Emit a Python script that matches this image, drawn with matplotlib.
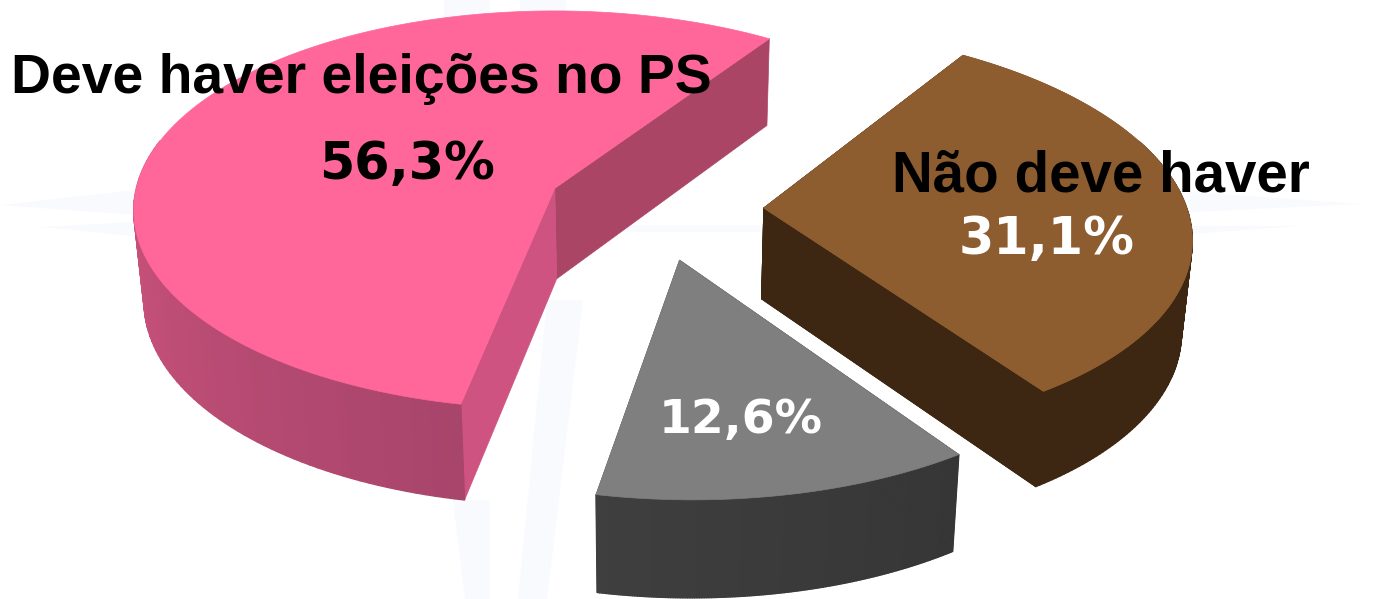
import numpy as np
import matplotlib
matplotlib.use("Agg")
import matplotlib.pyplot as plt
from matplotlib.colors import to_rgb
from matplotlib.collections import PolyCollection

# data
labels = ["Deve haver eleições no PS", "Não deve haver", ""]
shares = [56.3, 31.1, 12.6]
pct_labels = ["56,3%", "31,1%", "12,6%"]
pct_colors = ["black", "white", "white"]

top_colors = ["#FF6699", "#8D5C2F", "#7F7F7F"]
wall_start = ["#D2557F", "#3D2712", "#4A4A4A"]
wall_end = ["#A6446A", "#3D2712", "#333333"]
cut_colors = [("#AB4566", "#CE5380"), ("#3D2712", "#3D2712"), ("#4A4A4A", "#333333")]

start_angle = 56.0
explode = 0.257
depth = 91.0
cx, cy = 655.0, 208.0
ax_x, ax_y = 423.0, 201.0
persp = 0.11
shear = 10.0
squeeze = 0.00022


def project(u, v, z=0.0):
    # disc coordinates to pixels, z is how far down the wall
    u = np.asarray(u, dtype=float)
    v = np.asarray(v, dtype=float)
    s = 1.0 / (1.0 + persp * v)
    x = cx + ax_x * u * s - shear * v
    y = cy - ax_y * v * s + z * np.sqrt(s)
    x = 650 + (x - 650) * (1 - squeeze * z)
    return np.column_stack([x, y])


def mix(c0, c1, t):
    a, b = np.array(to_rgb(c0)), np.array(to_rgb(c1))
    return a + (b - a) * t


def draw_slice(ax, a0, a1, top, w0, w1, cuts, side_range):
    mid = np.radians((a0 + a1) / 2)
    ox, oy = explode * np.cos(mid), explode * np.sin(mid)
    th = np.radians(np.linspace(a0, a1, 160))
    us, vs = ox + np.cos(th), oy + np.sin(th)

    # straight cut walls
    for ang, col in zip((a0, a1), cuts):
        t = np.radians(ang)
        end_u, end_v = ox + np.cos(t), oy + np.sin(t)
        p = np.vstack([project([ox, end_u], [oy, end_v]),
                       project([end_u, ox], [end_v, oy], depth)])
        ax.fill(p[:, 0], p[:, 1], color=col, lw=0.5, zorder=2)

    # curved outer wall as thin strips
    upper, lower = project(us, vs), project(us, vs, depth)
    polys, cols = [], []
    for i in range(len(th) - 1):
        ang = np.degrees(th[i]) % 360
        if side_range[0] <= ang <= side_range[1]:
            t = (ang - side_range[0]) / (side_range[1] - side_range[0])
            polys.append([upper[i], upper[i + 1], lower[i + 1], lower[i]])
            cols.append(mix(w0, w1, t))
    ax.add_collection(PolyCollection(polys, facecolors=cols, edgecolors=cols, lw=1.0, zorder=3))

    outline = np.vstack([project([ox], [oy]), upper])
    ax.fill(outline[:, 0], outline[:, 1], color=top, lw=0.5, zorder=4)


fig = plt.figure(figsize=(13.93, 5.99), dpi=100)
ax = fig.add_axes([0, 0, 1, 1])
ax.set_xlim(0, 1393)
ax.set_ylim(599, 0)
ax.axis("off")

# faint compass watermark behind the pie
faint = "#F8FAFE"
ax.fill([1, 135, 135], [205, 190, 215], color=faint, lw=0, zorder=1)
ax.fill([40, 135, 135], [227, 222, 236], color=faint, lw=0, zorder=1)
ax.fill([1190, 1360, 1190], [192, 204, 212], color=faint, lw=0, zorder=1)
ax.fill([1190, 1300, 1190], [226, 226, 234], color=faint, lw=0, zorder=1)
ax.fill([444, 490, 490, 444], [0, 0, 25, 25], color=faint, lw=0, zorder=1)
ax.fill([520, 566, 566, 520], [0, 0, 25, 25], color=faint, lw=0, zorder=1)
ax.fill([453, 490, 490, 465], [500, 500, 599, 599], color=faint, lw=0, zorder=1)
ax.fill([547, 583, 547, 518], [300, 300, 599, 599], color=faint, lw=0, zorder=1)
ax.fill([587, 760, 760, 587], [225, 225, 232, 232], color=faint, lw=0, zorder=1)

sweeps = np.array(shares) / np.sum(shares) * 360
# pink runs counter clockwise from the start, brown clockwise, gray closes the circle
a_pink = (start_angle, start_angle + sweeps[0])
a_gray = (a_pink[1], a_pink[1] + sweeps[2])
a_brown = (a_gray[1], a_gray[1] + sweeps[1])

draw_slice(ax, *a_gray, top_colors[2], wall_start[2], wall_end[2], cut_colors[2], (200, 320))
draw_slice(ax, *a_brown, top_colors[1], wall_start[1], wall_end[1], cut_colors[1], (270, 360))
draw_slice(ax, *a_brown, top_colors[1], wall_start[1], wall_end[1], cut_colors[1], (0, 20))
draw_slice(ax, *a_pink, top_colors[0], wall_start[0], wall_end[0], cut_colors[0], (165, 262))

ax.text(361, 79, labels[0], family="Liberation Sans", weight="bold", fontsize=39.8,
        ha="center", va="center", color="black", zorder=6)
ax.text(1101, 176, labels[1], family="Liberation Sans", weight="bold", fontsize=40.7,
        ha="center", va="center", color="black", zorder=6)
ax.text(407, 165, pct_labels[0], family="DejaVu Sans", weight="bold", fontsize=36.5,
        ha="center", va="center", color=pct_colors[0], zorder=6)
ax.text(1047, 240, pct_labels[1], family="DejaVu Sans", weight="bold", fontsize=36.5,
        ha="center", va="center", color=pct_colors[1], zorder=6)
ax.text(741, 421, pct_labels[2], family="DejaVu Sans", weight="bold", fontsize=34,
        ha="center", va="center", color=pct_colors[2], zorder=6)

fig.savefig("out.png", dpi=100)
